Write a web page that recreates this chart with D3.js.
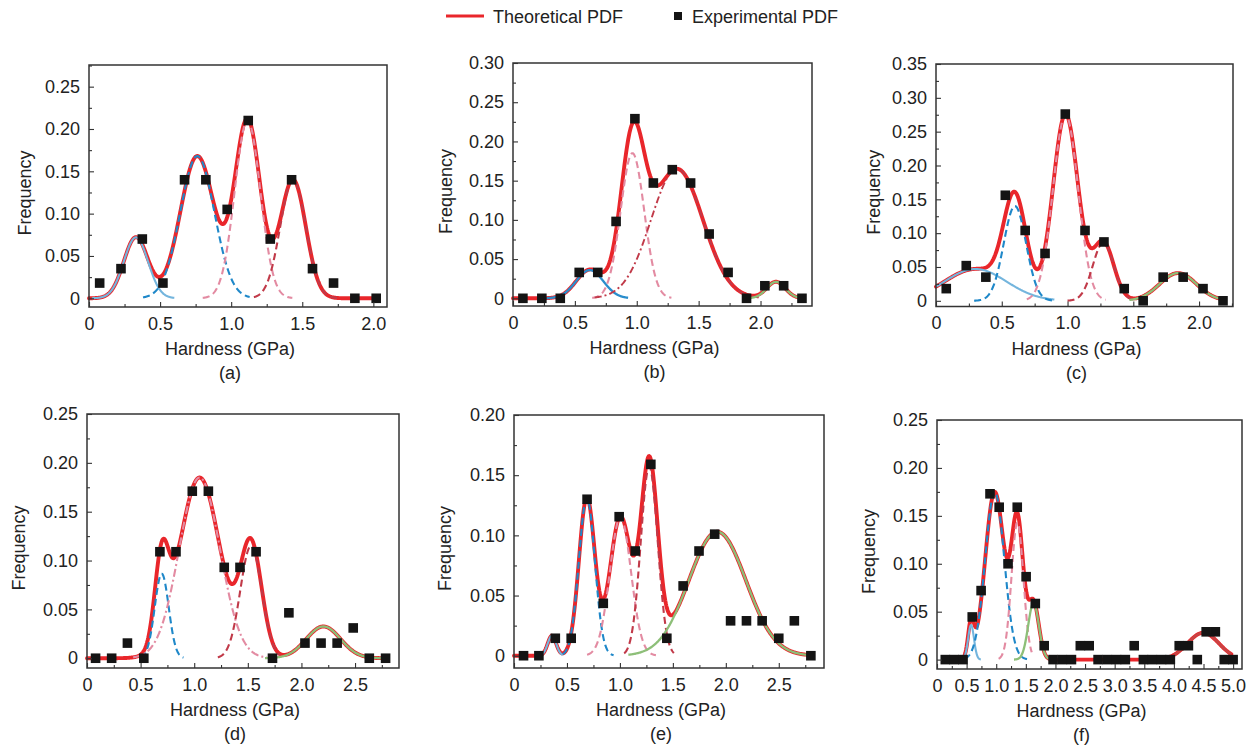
<!DOCTYPE html>
<html><head><meta charset="utf-8">
<script src="https://cdn.jsdelivr.net/npm/d3@7"></script>
<style>
body{margin:0;background:#fff}
svg{display:block}
text{font-family:"Liberation Sans",Arial,Helvetica,sans-serif;fill:#222}
</style>
</head><body>
<svg id="chart" width="1255" height="748"></svg>
<script>
// ---------------- DATA ----------------
// Experimental PDF points: hardness (GPa) and frequency
const xA = [0.075, 0.225, 0.375, 0.52, 0.672, 0.822, 0.972, 1.12, 1.275, 1.425, 1.572, 1.72, 1.87, 2.02];
const yA = [0.018, 0.035, 0.070, 0.018, 0.140, 0.140, 0.105, 0.210, 0.070, 0.140, 0.035, 0.018, 0, 0];

const xB = [0.08, 0.233, 0.382, 0.535, 0.685, 0.833, 0.985, 1.134, 1.287, 1.435, 1.585, 1.738, 1.887, 2.035, 2.187, 2.335];
const yB = [0, 0, 0, 0.033, 0.033, 0.098, 0.229, 0.147, 0.164, 0.147, 0.082, 0.033, 0, 0.016, 0.016, 0];

const xC = [0.078, 0.23, 0.379, 0.527, 0.678, 0.829, 0.983, 1.133, 1.277, 1.431, 1.575, 1.727, 1.879, 2.03, 2.182];
const yC = [0.018, 0.052, 0.035, 0.156, 0.104, 0.070, 0.276, 0.104, 0.087, 0.018, 0, 0.035, 0.035, 0.018, 0];

const xD = [0.08, 0.23, 0.377, 0.53, 0.68, 0.83, 0.982, 1.132, 1.28, 1.427, 1.577, 1.73, 1.883, 2.033, 2.183, 2.333, 2.483, 2.633, 2.785];
const yD = [0, 0, 0.0155, 0, 0.109, 0.109, 0.171, 0.171, 0.093, 0.093, 0.109, 0, 0.0465, 0.0155, 0.0155, 0.0155, 0.031, 0, 0];

const xE = [0.09, 0.235, 0.39, 0.54, 0.69, 0.843, 0.993, 1.145, 1.292, 1.443, 1.597, 1.747, 1.895, 2.045, 2.195, 2.343, 2.5, 2.647, 2.803];
const yE = [0, 0, 0.0145, 0.0145, 0.13, 0.0435, 0.1155, 0.087, 0.159, 0.0145, 0.058, 0.087, 0.101, 0.029, 0.029, 0.029, 0.0145, 0.029, 0];

const xF = [0.14, 0.29, 0.44, 0.595, 0.745, 0.895, 1.05, 1.2, 1.355, 1.505, 1.66, 1.81, 1.96, 2.115, 2.27, 2.42, 2.57, 2.72, 2.875, 3.03, 3.18, 3.33, 3.485, 3.635, 3.79, 3.94, 4.09, 4.245, 4.395, 4.545, 4.7, 4.85, 5.0];
const yF = [0, 0, 0, 0.0445, 0.072, 0.173, 0.159, 0.1, 0.159, 0.0865, 0.0585, 0.0145, 0, 0, 0, 0.0145, 0.0145, 0, 0, 0, 0, 0.0145, 0, 0, 0, 0, 0.0145, 0.0145, 0, 0.029, 0.029, 0, 0];

// Fitted Gaussian components: [peak height, mean (GPa), std dev (GPa), drawn from, drawn to]
const compsA = [[0.072, 0.33, 0.085, 0.02, 0.60], [0.168, 0.762, 0.12, 0.38, 1.13], [0.21, 1.115, 0.09, 0.80, 1.43], [0.14, 1.435, 0.09, 1.16, 1.75]];
const compsB = [[0.036, 0.62, 0.11, 0.27, 0.93], [0.185, 0.965, 0.095, 0.64, 1.28], [0.165, 1.325, 0.21, 0.66, 2.0], [0.021, 2.125, 0.075, 1.90, 2.34]];
const compsC = [[0.047, 0.30, 0.236, 0.0, 0.90], [0.14, 0.60, 0.085, 0.29, 0.90], [0.275, 0.985, 0.095, 0.69, 1.29], [0.086, 1.272, 0.08, 1.0, 1.5], [0.041, 1.84, 0.14, 1.47, 2.18]];
const compsD = [[0.0865, 0.697, 0.065, 0.50, 0.90], [0.185, 1.05, 0.19, 0.43, 1.68], [0.115, 1.53, 0.10, 1.22, 1.80], [0.0325, 2.205, 0.16, 1.66, 2.80]];
const compsE = [[0.0166, 0.358, 0.04, 0.24, 0.46], [0.131, 0.688, 0.075, 0.46, 0.94], [0.115, 1.005, 0.10, 0.69, 1.34], [0.157, 1.277, 0.08, 1.04, 1.51], [0.103, 1.92, 0.27, 1.08, 2.80]];
const compsF = [[0.036, 0.575, 0.05, 0.39, 0.74], [0.175, 0.975, 0.16, 0.46, 1.52], [0.143, 1.358, 0.10, 1.04, 1.60], [0.059, 1.63, 0.09, 1.30, 1.90], [0.028, 4.495, 0.265, 4.0, 4.97]];

// Range over which the theoretical (total) PDF is drawn
const totalA = [0, 2.02];
const totalB = [0, 2.34];
const totalC = [0, 2.18];
const totalD = [0, 2.80];
const totalE = [0, 2.80];
const totalF = [0.1, 4.97];

// Axis ticks and labels
const xTicksA = [0, 0.5, 1.0, 1.5, 2.0];
const xTickLabelsA = ["0", "0.5", "1.0", "1.5", "2.0"];
const xTicksD = [0, 0.5, 1.0, 1.5, 2.0, 2.5];
const xTickLabelsD = ["0", "0.5", "1.0", "1.5", "2.0", "2.5"];
const xTicksF = [0, 0.5, 1.0, 1.5, 2.0, 2.5, 3.0, 3.5, 4.0, 4.5, 5.0];
const xTickLabelsF = ["0", "0.5", "1.0", "1.5", "2.0", "2.5", "3.0", "3.5", "4.0", "4.5", "5.0"];
const yTicks20 = [0, 0.05, 0.10, 0.15, 0.20];
const yTickLabels20 = ["0", "0.05", "0.10", "0.15", "0.20"];
const yTicks25 = [0, 0.05, 0.10, 0.15, 0.20, 0.25];
const yTickLabels25 = ["0", "0.05", "0.10", "0.15", "0.20", "0.25"];
const yTicks30 = [0, 0.05, 0.10, 0.15, 0.20, 0.25, 0.30];
const yTickLabels30 = ["0", "0.05", "0.10", "0.15", "0.20", "0.25", "0.30"];
const yTicks35 = [0, 0.05, 0.10, 0.15, 0.20, 0.25, 0.30, 0.35];
const yTickLabels35 = ["0", "0.05", "0.10", "0.15", "0.20", "0.25", "0.30", "0.35"];

const panelLabels = ["(a)", "(b)", "(c)", "(d)", "(e)", "(f)"];
const legendLabels = ["Theoretical PDF", "Experimental PDF"];
const xTitle = "Hardness (GPa)";
const yTitle = "Frequency";

// ---------------- STYLES / LAYOUT ----------------
const STY = {
  total:    {stroke: "#e9262b", w: 3.9, dash: null},
  lblue:    {stroke: "#74b5dd", w: 2.1, dash: null},
  blue:     {stroke: "#1f88c9", w: 2.1, dash: "7,4"},
  bluesol:  {stroke: "#2a8dcc", w: 2.3, dash: null},
  pink:     {stroke: "#e38ba2", w: 2.1, dash: "7,4"},
  pinkdd:   {stroke: "#e38ba2", w: 2.1, dash: "8,3,2,3"},
  dred:     {stroke: "#c13a49", w: 2.1, dash: "7,4"},
  dreddd:   {stroke: "#c13a49", w: 1.9, dash: "7,3,2,3"},
  green:    {stroke: "#8dbf78", w: 2.3, dash: null},
  dredsol:  {stroke: "#c94444", w: 2.6, dash: null}
};

const panels = [
  {xs: xA, ys: yA, comps: compsA, total: totalA, styles: ["lblue", "blue", "pink", "dred"],
   xDomain: [0, 2.096], yDomain: [-0.0103, 0.2756], xTicks: xTicksA, xLabels: xTickLabelsA, yTicks: yTicks25, yLabels: yTickLabels25,
   box: {left: 89, top: 65, right: 387, bottom: 307}, ylabX: 31},
  {xs: xB, ys: yB, comps: compsB, total: totalB, styles: ["bluesol", "pink", "dreddd", "green"],
   xDomain: [0, 2.416], yDomain: [-0.0098, 0.30], xTicks: xTicksA, xLabels: xTickLabelsA, yTicks: yTicks30, yLabels: yTickLabels30,
   box: {left: 513, top: 63, right: 812, bottom: 306}, ylabX: 452},
  {xs: xC, ys: yC, comps: compsC, total: totalC, styles: ["lblue", "blue", "pink", "dred", "green"],
   xDomain: [0, 2.258], yDomain: [-0.0084, 0.35], xTicks: xTicksA, xLabels: xTickLabelsA, yTicks: yTicks35, yLabels: yTickLabels35,
   box: {left: 936, top: 64, right: 1233, bottom: 306.5}, ylabX: 880},
  {xs: xD, ys: yD, comps: compsD, total: totalD, styles: ["blue", "pinkdd", "dred", "green"],
   xDomain: [0, 2.91], yDomain: [-0.0100, 0.25], xTicks: xTicksD, xLabels: xTickLabelsD, yTicks: yTicks25, yLabels: yTickLabels25,
   box: {left: 87, top: 414, right: 399, bottom: 668}, ylabX: 25},
  {xs: xE, ys: yE, comps: compsE, total: totalE, styles: ["lblue", "blue", "pink", "dred", "green"],
   xDomain: [0, 2.927], yDomain: [-0.0102, 0.20], xTicks: xTicksD, xLabels: xTickLabelsD, yTicks: yTicks20, yLabels: yTickLabels20,
   box: {left: 514, top: 415, right: 824, bottom: 668}, ylabX: 451},
  {xs: xF, ys: yF, comps: compsF, total: totalF, styles: ["lblue", "blue", "pink", "green", "dredsol"],
   xDomain: [0, 5.15], yDomain: [-0.0098, 0.25], xTicks: xTicksF, xLabels: xTickLabelsF, yTicks: yTicks25, yLabels: yTickLabels25,
   box: {left: 937, top: 420, right: 1242, bottom: 669}, ylabX: 875}
];

const FONT = 18;
const AXIS = "#333";
const MARK = 9.6;

// ---------------- DRAW ----------------
const svg = d3.select("#chart");
const gauss = (c, v) => c[0] * Math.exp(-((v - c[1]) ** 2) / (2 * c[2] * c[2]));
const samples = (a, b, n) => d3.range(n + 1).map(i => a + (b - a) * i / n);
const minorsOf = (majors, dom) => {
  const step = majors[1] - majors[0];
  const out = [];
  majors.forEach(m => { const v = m + step / 2; if (v < dom[1] - 1e-6) out.push(v); });
  return out;
};

panels.forEach((p, pi) => {
  const B = p.box;
  const x = d3.scaleLinear().domain(p.xDomain).range([B.left, B.right]);
  const y = d3.scaleLinear().domain(p.yDomain).range([B.bottom, B.top]);
  const g = svg.append("g").attr("class", "panel");
  const line = d3.line().x(d => x(d[0])).y(d => y(d[1]));

  // theoretical PDF (sum of components)
  const tx = samples(p.total[0], p.total[1], 500);
  g.append("path")
    .attr("d", line(tx.map(v => [v, d3.sum(p.comps, c => gauss(c, v))])))
    .attr("fill", "none").attr("stroke", STY.total.stroke).attr("stroke-width", STY.total.w)
    .attr("stroke-linejoin", "round").attr("stroke-linecap", "round");

  // components
  p.comps.forEach((c, i) => {
    const st = STY[p.styles[i]];
    const cx = samples(c[3], c[4], 300);
    g.append("path")
      .attr("d", line(cx.map(v => [v, gauss(c, v)])))
      .attr("fill", "none").attr("stroke", st.stroke).attr("stroke-width", st.w)
      .attr("stroke-dasharray", st.dash);
  });

  // experimental points
  g.selectAll("rect.pt").data(d3.zip(p.xs, p.ys)).join("rect")
    .attr("class", "pt")
    .attr("x", d => x(d[0]) - MARK / 2).attr("y", d => y(d[1]) - MARK / 2)
    .attr("width", MARK).attr("height", MARK).attr("fill", "#141414");

  // frame
  g.append("rect").attr("x", B.left).attr("y", B.top)
    .attr("width", B.right - B.left).attr("height", B.bottom - B.top)
    .attr("fill", "none").attr("stroke", AXIS).attr("stroke-width", 1.5);

  // axes
  const styleAxis = sel => {
    sel.select(".domain").remove();
    sel.selectAll(".tick line").attr("stroke", AXIS).attr("stroke-width", 1.1);
    sel.selectAll("text").attr("font-size", FONT).attr("fill", "#222");
    sel.attr("font-family", null).attr("font-size", null);
  };
  g.append("g").attr("transform", `translate(0,${B.bottom})`)
    .call(d3.axisBottom(x).tickValues(p.xTicks).tickFormat((d, i) => p.xLabels[i]).tickSizeInner(-5).tickSizeOuter(0).tickPadding(10))
    .call(styleAxis);
  g.append("g").attr("transform", `translate(0,${B.bottom})`)
    .call(d3.axisBottom(x).tickValues(minorsOf(p.xTicks, p.xDomain)).tickFormat("").tickSizeInner(-3).tickSizeOuter(0))
    .call(styleAxis);
  g.append("g").attr("transform", `translate(${B.left},0)`)
    .call(d3.axisLeft(y).tickValues(p.yTicks).tickFormat((d, i) => p.yLabels[i]).tickSizeInner(-5).tickSizeOuter(0).tickPadding(9))
    .call(styleAxis);
  g.append("g").attr("transform", `translate(${B.left},0)`)
    .call(d3.axisLeft(y).tickValues(minorsOf(p.yTicks, p.yDomain)).tickFormat("").tickSizeInner(-3).tickSizeOuter(0))
    .call(styleAxis);

  // titles
  const cx = (B.left + B.right) / 2 - 8;
  g.append("text").attr("x", cx).attr("y", B.bottom + 48).attr("text-anchor", "middle")
    .attr("font-size", FONT).text(xTitle);
  g.append("text").attr("transform", `translate(${p.ylabX},${(B.top + B.bottom) / 2 + 7}) rotate(-90)`)
    .attr("text-anchor", "middle").attr("font-size", FONT).text(yTitle);
  g.append("text").attr("x", cx).attr("y", B.bottom + 72).attr("text-anchor", "middle")
    .attr("font-size", FONT).text(panelLabels[pi]);
});

// legend
const lg = svg.append("g");
lg.append("line").attr("x1", 446).attr("x2", 484).attr("y1", 16).attr("y2", 16)
  .attr("stroke", STY.total.stroke).attr("stroke-width", 3);
lg.append("text").attr("x", 493).attr("y", 23).attr("font-size", FONT).text(legendLabels[0]);
lg.append("rect").attr("x", 674).attr("y", 12).attr("width", 8).attr("height", 8).attr("fill", "#141414");
lg.append("text").attr("x", 692).attr("y", 23).attr("font-size", FONT).text(legendLabels[1]);
</script>
</body></html>
